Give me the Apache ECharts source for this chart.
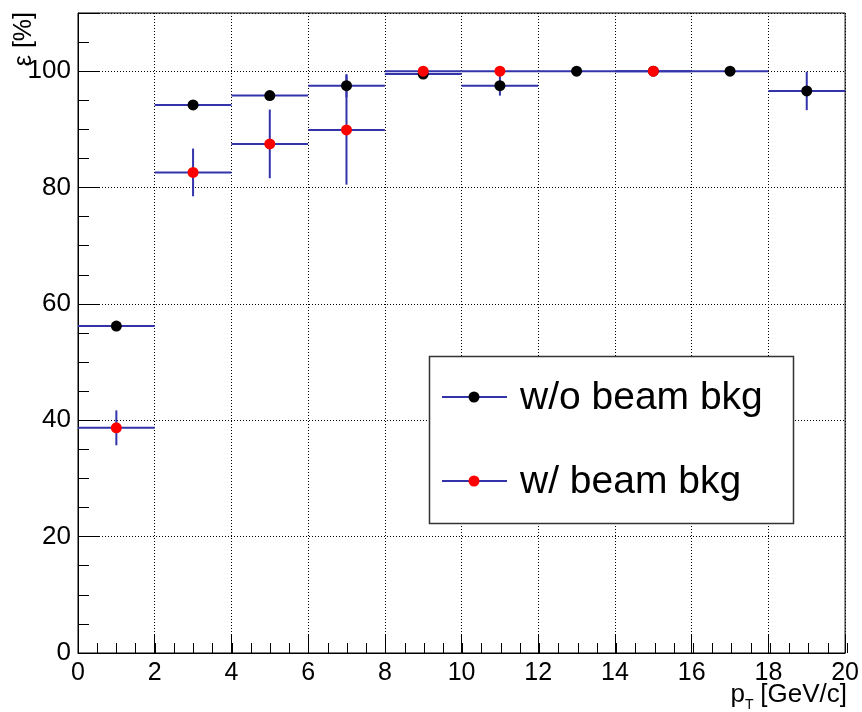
<!DOCTYPE html>
<html><head><meta charset="utf-8">
<script src="https://cdn.jsdelivr.net/npm/echarts@6/dist/echarts.min.js"></script>
<style>html,body{margin:0;padding:0;background:#fff}#c{width:862px;height:712px}</style>
</head><body><div id="c"></div>
<script>
// bin centres (pT, GeV/c) and half bin width
const binHalfWidth = 1;
// "w/o beam bkg"
const woX   = [1, 3, 5, 7, 9, 11, 13, 15, 17, 19];
const woY   = [56.2, 94.2, 95.8, 97.5, 99.5, 97.5, 100, 100, 100, 96.6];
const woErr = [0.7, 0.7, 0.7, 2.0, 0.4, 1.7, 0, 0, 0, 3.3];
// "w/ beam bkg"
const wX   = [1, 3, 5, 7, 9, 11, 15];
const wY   = [38.7, 82.6, 87.5, 89.9, 100, 100, 100];
const wErr = [3.0, 4.1, 5.9, 9.4, 0, 0, 0];
// axes
const xMin = 0, xMax = 20, xMajor = 2, xMinor = 0.5;
const yMin = 0, yMax = 110, yMajor = 20, yMinor = 5;
const legendNames = ['w/o beam bkg', 'w/ beam bkg'];

const ERR = '#3333aa';
const FONT = 'Liberation Sans';

function errRender(params, api) {
  const x = api.value(0), y = api.value(1), e = api.value(2), hw = api.value(3);
  const l = api.coord([x - hw, y]), r = api.coord([x + hw, y]);
  const t = api.coord([x, y + e]), b = api.coord([x, y - e]);
  const style = { stroke: ERR, lineWidth: 2 };
  const children = [{ type: 'line', shape: { x1: l[0], y1: l[1], x2: r[0], y2: r[1] }, style }];
  if (e > 0) children.push({ type: 'line', shape: { x1: t[0], y1: t[1], x2: b[0], y2: b[1] }, style });
  return { type: 'group', children };
}
const woErrData = woX.map((x, i) => [x, woY[i], woErr[i], binHalfWidth]);
const wErrData = wX.map((x, i) => [x, wY[i], wErr[i], binHalfWidth]);
const woPts = woX.map((x, i) => [x, woY[i]]);
const wPts = wX.map((x, i) => [x, wY[i]]);

const gridRect = { left: 78, right: 15, top: 13, bottom: 59 };
const chart = echarts.init(document.getElementById('c'), null, { renderer: 'canvas' });
chart.setOption({
  animation: false,
  backgroundColor: '#fff',
  grid: [
    Object.assign({ show: true, borderColor: '#000', borderWidth: 1, backgroundColor: 'transparent' }, gridRect),
    Object.assign({ show: false }, gridRect)
  ],
  xAxis: [
    { type: 'value', gridIndex: 0, min: xMin, max: xMax, interval: xMajor,
      axisLine: { show: true, onZero: false, lineStyle: { color: '#000', width: 1 } },
      axisTick: { show: true, inside: true, length: 18, lineStyle: { color: '#000' } },
      axisLabel: { color: '#000', fontFamily: FONT, fontSize: 25, margin: 8 },
      splitLine: { show: true, lineStyle: { color: '#000', type: [1, 2], width: 1 } } },
    { type: 'value', gridIndex: 1, min: xMin, max: xMax, interval: xMinor,
      axisLine: { show: false }, axisLabel: { show: false }, splitLine: { show: false },
      axisTick: { show: true, inside: true, length: 10, lineStyle: { color: '#000' } } }
  ],
  yAxis: [
    { type: 'value', gridIndex: 0, min: yMin, max: yMax, interval: yMajor,
      axisLine: { show: true, onZero: false, lineStyle: { color: '#000', width: 1 } },
      axisTick: { show: true, inside: true, length: 21, lineStyle: { color: '#000' } },
      axisLabel: { color: '#000', fontFamily: FONT, fontSize: 26, margin: 7,
        formatter: v => (v > 100 ? '' : String(v)) },
      splitLine: { show: true, lineStyle: { color: '#000', type: [1, 2], width: 1 } } },
    { type: 'value', gridIndex: 1, min: yMin, max: yMax, interval: yMinor,
      axisLine: { show: false }, axisLabel: { show: false }, splitLine: { show: false },
      axisTick: { show: true, inside: true, length: 11, lineStyle: { color: '#000' } } }
  ],
  series: [
    { type: 'custom', name: legendNames[0] + ' err', xAxisIndex: 0, yAxisIndex: 0, renderItem: errRender, data: woErrData, clip: true },
    { type: 'scatter', name: legendNames[0], xAxisIndex: 0, yAxisIndex: 0, data: woPts, symbol: 'circle', symbolSize: 11, itemStyle: { color: '#000', opacity: 1 } },
    { type: 'custom', name: legendNames[1] + ' err', xAxisIndex: 0, yAxisIndex: 0, renderItem: errRender, data: wErrData, clip: true },
    { type: 'scatter', name: legendNames[1], xAxisIndex: 0, yAxisIndex: 0, data: wPts, symbol: 'circle', symbolSize: 11, itemStyle: { color: '#ff0000', opacity: 1 } }
  ],
  graphic: [
    // y axis title
    { type: 'text', x: 24, y: 12, rotation: Math.PI / 2,
      style: { text: 'ε [%]', fontFamily: FONT, fontSize: 25, fill: '#000', align: 'right', verticalAlign: 'middle' } },
    // x axis title
    { type: 'text', x: 847, y: 682, style: { text: '[GeV/c]', fontFamily: FONT, fontSize: 26, fill: '#000', align: 'right', verticalAlign: 'top' } },
    { type: 'text', x: 745, y: 698, style: { text: 'T', fontFamily: FONT, fontSize: 14, fill: '#000', align: 'left', verticalAlign: 'top' } },
    { type: 'text', x: 745, y: 682, style: { text: 'p', fontFamily: FONT, fontSize: 26, fill: '#000', align: 'right', verticalAlign: 'top' } },
    // legend
    { type: 'rect', shape: { x: 429.5, y: 356.5, width: 364, height: 167 }, style: { fill: '#fff', stroke: '#333', lineWidth: 1.5 }, z: 10 },
    { type: 'line', shape: { x1: 442, y1: 397, x2: 507, y2: 397 }, style: { stroke: ERR, lineWidth: 2 }, z: 11 },
    { type: 'circle', shape: { cx: 474, cy: 397, r: 5.5 }, style: { fill: '#000' }, z: 12 },
    { type: 'text', x: 520, y: 398, style: { text: legendNames[0], fontFamily: FONT, fontSize: 39, fill: '#000', verticalAlign: 'middle' }, z: 12 },
    { type: 'line', shape: { x1: 442, y1: 481, x2: 507, y2: 481 }, style: { stroke: ERR, lineWidth: 2 }, z: 11 },
    { type: 'circle', shape: { cx: 474, cy: 481, r: 5.5 }, style: { fill: '#ff0000' }, z: 12 },
    { type: 'text', x: 520, y: 482, style: { text: legendNames[1], fontFamily: FONT, fontSize: 39, fill: '#000', verticalAlign: 'middle' }, z: 12 }
  ]
});
</script></body></html>
